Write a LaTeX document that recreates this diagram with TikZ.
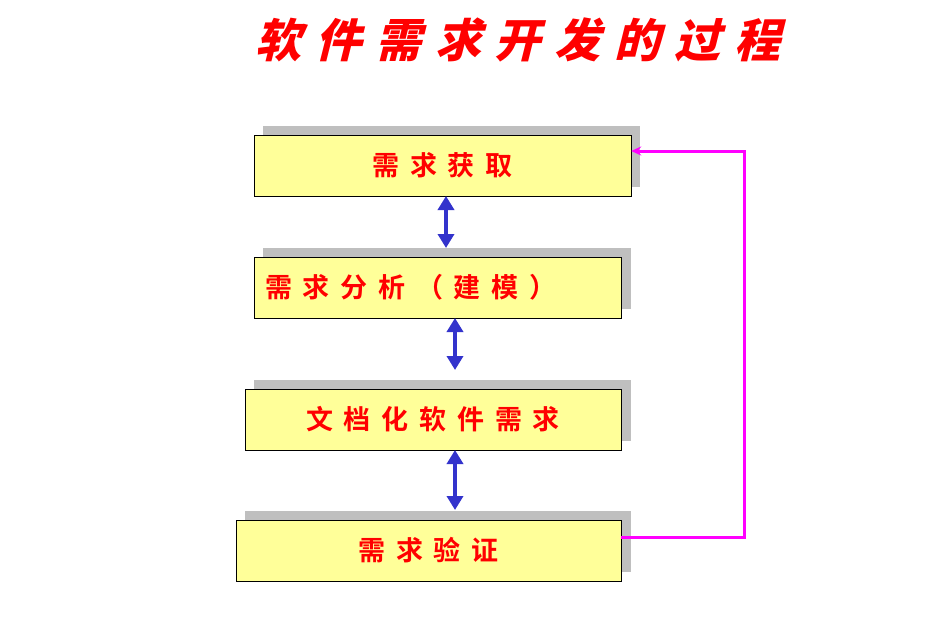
\documentclass[tikz,border=0pt]{standalone}
\usepackage{fontspec}
\newfontfamily\cjk[LetterSpace=40]{Noto Sans CJK SC Bold}
\newfontfamily\cjkit[FakeSlant=0.25,LetterSpace=30]{Noto Sans CJK SC Black}
\usetikzlibrary{arrows.meta}
\definecolor{boxfill}{RGB}{255,255,153}
\definecolor{tred}{RGB}{255,0,0}
\definecolor{shad}{RGB}{191,191,191}
\definecolor{arrblue}{RGB}{51,51,204}
\definecolor{mag}{RGB}{255,0,255}
\tikzset{
 x=1pt,y=-1pt,
 stepbox/.style={draw=black,fill=boxfill,text=tred,font=\cjk\fontsize{27}{27}\selectfont,inner sep=0pt},
 shadowbox/.style={fill=shad,draw=none},
 biarrow/.style={arrblue,line width=4pt,{Triangle[width=16pt,length=14pt]}-{Triangle[width=16pt,length=14pt]}},
 feedback/.style={mag,line width=3pt,-{Stealth[length=10pt,width=9pt]}}
}
\begin{document}
\begin{tikzpicture}
\useasboundingbox (0,0) rectangle (937,637);
\node (title) [text=tred,font=\cjkit\fontsize{46}{46}\selectfont] at (518,40) {软件需求开发的过程};
% shadows
\fill[shadowbox] (263,126) rectangle (640,187);
\fill[shadowbox] (263,248) rectangle (631,309);
\fill[shadowbox] (254,380) rectangle (631,441);
\fill[shadowbox] (245,511) rectangle (631,572);
% boxes
\node[stepbox,minimum width=377pt,minimum height=61pt] (b1) at (442.5,165.5) {需求获取};
\node[stepbox,minimum width=367pt,minimum height=61pt,text width=345pt,align=left] (b2) at (437.5,287.5) {需求分析（建模）};
\node[stepbox,minimum width=376pt,minimum height=61pt] (b3) at (433,419.5) {文档化软件需求};
\node[stepbox,minimum width=385pt,minimum height=61pt] (b4) at (428.5,550.5) {需求验证};
% arrows
\draw[biarrow] (446,196) -- (446,248);
\draw[biarrow] (455,318) -- (455,370);
\draw[biarrow] (455,450) -- (455,510);
\coordinate (c1) at (744,537);
\coordinate (c2) at (744,151);
\draw[feedback] (b4.east |- c1) -- (c1) -- (c2) -- (c2 -| b1.east);
\end{tikzpicture}
\end{document}
